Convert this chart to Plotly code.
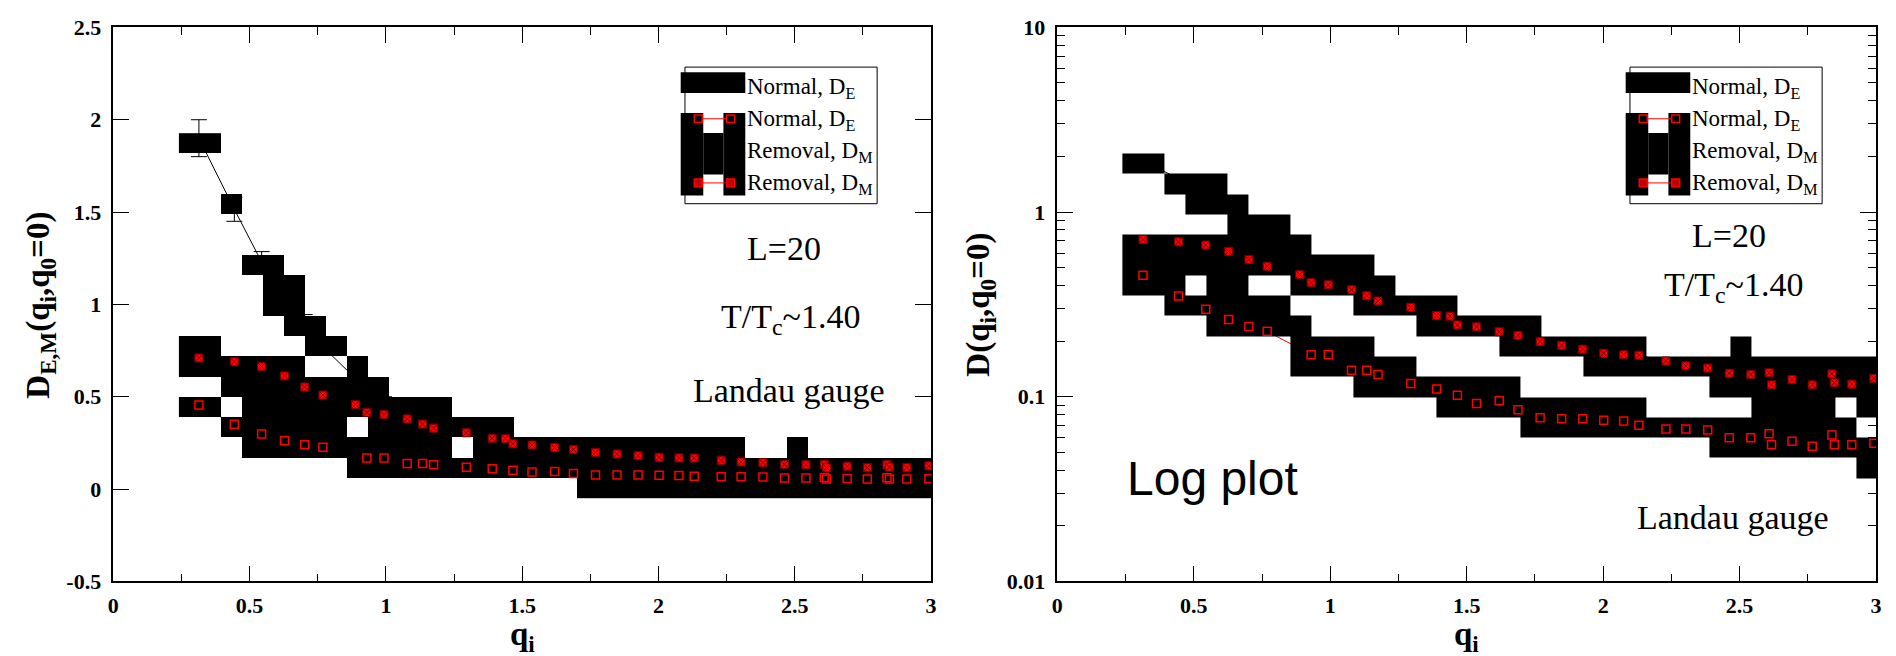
import math
import plotly.graph_objects as go

# ---------------- data ----------------
# Normal, D_E (black, with error bars)
q_de_black = [0.314, 0.444, 0.544, 0.628, 0.702, 0.769, 0.888, 0.930, 0.993, 1.078, 1.175]
de_black = [1.90, 1.515, 1.23, 1.05, 0.90, 0.77, 0.60, 0.55, 0.47, 0.45, 0.40]
de_black_err = [0.10, 0.065, 0.056, 0.05, 0.045, 0.04, 0.035, 0.03, 0.03, 0.025, 0.02]

# Normal, D_E (red open squares)
q_de_red = [0.314, 0.444, 0.544, 0.628, 0.702, 0.769, 0.930, 0.993, 1.078, 1.134, 1.175, 1.295,
            1.390, 1.466, 1.536, 1.619, 1.688, 1.769, 1.848, 1.925, 2.002, 2.075, 2.131, 2.230,
            2.303, 2.383, 2.462, 2.541, 2.608, 2.617, 2.692, 2.766, 2.838, 2.847, 2.911, 2.992]
de_red = [0.455, 0.351, 0.298, 0.262, 0.240, 0.226, 0.169, 0.169, 0.139, 0.139, 0.132, 0.118,
          0.110, 0.102, 0.092, 0.095, 0.085, 0.077, 0.076, 0.076, 0.0745, 0.074, 0.070, 0.067,
          0.067, 0.066, 0.060, 0.060, 0.063, 0.055, 0.0575, 0.054, 0.062, 0.055, 0.055, 0.056]

# Removal, D_M (black)
q_dm_black = [0.314, 0.444, 0.544, 0.628, 0.702, 0.769, 0.888, 0.930, 0.993, 1.078, 1.134, 1.175,
              1.295, 1.390, 1.466, 1.536, 1.688, 1.848, 2.002, 2.131, 2.303, 2.462, 2.513, 2.608,
              2.766, 2.960, 2.980]
dm_black = [0.65, 0.55, 0.50, 0.44, 0.33, 0.31, 0.25, 0.19, 0.185, 0.175, 0.16, 0.15,
            0.13, 0.12, 0.11, 0.10, 0.09, 0.085, 0.08, 0.071, 0.069, 0.066, 0.19, 0.088,
            0.088, 0.088, 0.041]

# Removal, D_M (red filled squares)
q_dm_red = [0.314, 0.444, 0.544, 0.628, 0.702, 0.769, 0.888, 0.930, 0.993, 1.078, 1.134, 1.175,
            1.295, 1.390, 1.439, 1.466, 1.536, 1.619, 1.688, 1.769, 1.848, 1.925, 2.002, 2.075,
            2.131, 2.230, 2.303, 2.383, 2.462, 2.541, 2.608, 2.617, 2.692, 2.766, 2.838, 2.847,
            2.911, 2.992]
dm_red = [0.71, 0.69, 0.663, 0.613, 0.553, 0.509, 0.458, 0.415, 0.404, 0.380, 0.352, 0.330,
          0.305, 0.275, 0.273, 0.245, 0.239, 0.225, 0.215, 0.199, 0.190, 0.181, 0.172, 0.169,
          0.168, 0.156, 0.147, 0.143, 0.134, 0.132, 0.135, 0.116, 0.124, 0.116, 0.133, 0.119,
          0.117, 0.126]

x_tick_vals = [0, 0.5, 1, 1.5, 2, 2.5, 3]
x_tick_text = ["0", "0.5", "1", "1.5", "2", "2.5", "3"]
ylin_tick_vals = [-0.5, 0, 0.5, 1, 1.5, 2, 2.5]
ylin_tick_text = ["-0.5", "0", "0.5", "1", "1.5", "2", "2.5"]
ylog_tick_vals = [0.01, 0.1, 1, 10]
ylog_tick_text = ["0.01", "0.1", "1", "10"]

legend_labels = ["Normal, D<sub>E</sub>", "Normal, D<sub>E</sub>",
                 "Removal, D<sub>M</sub>", "Removal, D<sub>M</sub>"]

# ---------------- geometry / style ----------------
W, H = 1896, 656
TOP, BOT = 16.0, 592.0
LX0, LX1 = 108.0, 931.0
RX0, RX1 = 1058.0, 1882.0
QMAX = 3.0
LIN_MIN, LIN_MAX = -0.5, 2.5
LOG_MIN, LOG_MAX = -2.0, 1.0

CELL = 21.1      # coarse block grid of the reference rendering
GX0, GY0 = 174.0, 126.0
HALF_X, HALF_Y = 5.0, 4.0

SERIF = "Liberation Serif"
SANS = "Liberation Sans"


def px_x(q, x0, x1):
    return x0 + q / QMAX * (x1 - x0)


def q_of_px(p, x0, x1):
    return (p - x0) / (x1 - x0) * QMAX


def py_lin(v):
    return TOP + (LIN_MAX - v) / (LIN_MAX - LIN_MIN) * (BOT - TOP)


def v_lin(p):
    return LIN_MAX - (p - TOP) / (BOT - TOP) * (LIN_MAX - LIN_MIN)


def py_log(v):
    return TOP + (LOG_MAX - math.log10(v)) / (LOG_MAX - LOG_MIN) * (BOT - TOP)


def v_log(p):
    return 10 ** (LOG_MAX - (p - TOP) / (BOT - TOP) * (LOG_MAX - LOG_MIN))


def block_mask(series, x0, x1, ypx, yval, xaxis, yaxis):
    cells = set()
    for qs, vs in series:
        for q, v in zip(qs, vs):
            px, py = px_x(q, x0, x1), ypx(v)
            i0 = math.floor((px - HALF_X - GX0) / CELL)
            i1 = math.floor((px + HALF_X - GX0) / CELL)
            j0 = math.floor((py - HALF_Y - GY0) / CELL)
            j1 = math.floor((py + HALF_Y - GY0) / CELL)
            for i in range(i0, i1 + 1):
                for j in range(j0, j1 + 1):
                    cells.add((i, j))
    imin = min(c[0] for c in cells)
    imax = max(c[0] for c in cells)
    jmin = min(c[1] for c in cells)
    jmax = max(c[1] for c in cells)
    xe = [q_of_px(GX0 + i * CELL, x0, x1) for i in range(imin, imax + 2)]
    js = list(range(jmax, jmin - 1, -1))
    ye = [yval(GY0 + (j + 1) * CELL) for j in js] + [yval(GY0 + jmin * CELL)]
    z = [[1 if (i, j) in cells else None for i in range(imin, imax + 1)] for j in js]
    return go.Heatmap(x=xe, y=ye, z=z, zmin=0, zmax=1,
                      colorscale=[[0, "black"], [1, "black"]], showscale=False,
                      hoverinfo="skip", xaxis=xaxis, yaxis=yaxis)


fig = go.Figure()

all_series = [(q_de_black, de_black), (q_dm_black, dm_black),
              (q_de_red, de_red), (q_dm_red, dm_red)]

panels = [
    dict(xa="x", ya="y", yo="y3", x0=LX0, x1=LX1, ypx=py_lin, yval=v_lin),
    dict(xa="x2", ya="y2", yo="y4", x0=RX0, x1=RX1, ypx=py_log, yval=v_log),
]

for p in panels:
    # base layer: lines (hidden where blocks cover them)
    fig.add_trace(go.Scatter(x=q_de_red, y=de_red, mode="lines",
                             line=dict(color="red", width=1),
                             xaxis=p["xa"], yaxis=p["ya"], showlegend=False))
    fig.add_trace(go.Scatter(x=q_dm_red, y=dm_red, mode="lines",
                             line=dict(color="red", width=1),
                             xaxis=p["xa"], yaxis=p["ya"], showlegend=False))
    fig.add_trace(go.Scatter(x=q_de_black, y=de_black, mode="lines+markers",
                             line=dict(color="black", width=1),
                             marker=dict(symbol="square", size=8, color="black"),
                             error_y=dict(type="data", array=de_black_err, color="black",
                                          thickness=1, width=8),
                             xaxis=p["xa"], yaxis=p["ya"], showlegend=False))
    fig.add_trace(go.Scatter(x=q_dm_black, y=dm_black, mode="markers",
                             marker=dict(symbol="square", size=8, color="black"),
                             xaxis=p["xa"], yaxis=p["ya"], showlegend=False))
    # overlay layer: black blocks, then red symbols on top
    fig.add_trace(block_mask(all_series, p["x0"], p["x1"], p["ypx"], p["yval"],
                             p["xa"], p["yo"]))
    fig.add_trace(go.Scatter(x=q_de_red, y=de_red, mode="markers",
                             marker=dict(symbol="square-open", size=8, color="red",
                                         line=dict(width=1.5, color="red")),
                             xaxis=p["xa"], yaxis=p["yo"], showlegend=False))
    fig.add_trace(go.Scatter(x=q_dm_red, y=dm_red, mode="markers",
                             marker=dict(symbol="square-x", size=8, color="red",
                                         line=dict(width=1, color="#7a0000")),
                             xaxis=p["xa"], yaxis=p["yo"], showlegend=False))

tickfont = dict(family=SERIF, size=22, color="black", weight="bold")
ydom = [1 - BOT / H, 1 - TOP / H]

common_x = dict(range=[0, QMAX], tickmode="array", tickvals=x_tick_vals, ticktext=x_tick_text,
                ticks="inside", ticklen=16, tickwidth=1, tickcolor="black",
                minor=dict(tickmode="linear", tick0=0, dtick=0.25, ticks="inside", ticklen=8,
                           tickwidth=1, tickcolor="black", showgrid=False),
                showline=True, linecolor="black", linewidth=1.5, mirror="ticks",
                showgrid=False, zeroline=False, tickfont=tickfont, ticklabelstandoff=3)

minor_log = [m * 10 ** e for e in (-2, -1, 0) for m in range(2, 10)]

fig.update_layout(
    width=W, height=H, margin=dict(l=0, r=0, t=0, b=0),
    paper_bgcolor="white", plot_bgcolor="white", showlegend=False,
    xaxis=dict(domain=[LX0 / W, LX1 / W], anchor="y", **common_x),
    xaxis2=dict(domain=[RX0 / W, RX1 / W], anchor="y2", **common_x),
    yaxis=dict(domain=ydom, anchor="x", range=[LIN_MIN, LIN_MAX], tickmode="array",
               tickvals=ylin_tick_vals, ticktext=ylin_tick_text, ticks="inside", ticklen=16,
               tickwidth=1, tickcolor="black", showline=True, linecolor="black",
               linewidth=1.5, mirror="ticks", showgrid=False, zeroline=False,
               tickfont=tickfont, ticklabelstandoff=6),
    yaxis2=dict(domain=ydom, anchor="x2", type="log", range=[LOG_MIN, LOG_MAX],
                tickmode="array", tickvals=ylog_tick_vals, ticktext=ylog_tick_text,
                ticks="inside", ticklen=16, tickwidth=1, tickcolor="black",
                minor=dict(tickmode="array", tickvals=minor_log, ticks="inside", ticklen=8,
                           tickwidth=1, tickcolor="black", showgrid=False),
                showline=True, linecolor="black", linewidth=1.5, mirror="ticks",
                showgrid=False, zeroline=False, tickfont=tickfont, ticklabelstandoff=6),
    yaxis3=dict(overlaying="y", anchor="x", range=[LIN_MIN, LIN_MAX], visible=False),
    yaxis4=dict(overlaying="y2", anchor="x2", type="log", range=[LOG_MIN, LOG_MAX],
                visible=False),
)


def pr(x0, y0, x1, y1, **kw):
    return dict(type="rect", xref="paper", yref="paper",
                x0=x0 / W, x1=x1 / W, y0=1 - y1 / H, y1=1 - y0 / H, **kw)


def pl(x0, y0, x1, y1, **kw):
    return dict(type="line", xref="paper", yref="paper",
                x0=x0 / W, x1=x1 / W, y0=1 - y0 / H, y1=1 - y1 / H, **kw)


shapes = []
annotations = []


def ann(text, x, y, size, family=SERIF, bold=False, xanchor="center", yanchor="top",
        angle=0):
    annotations.append(dict(text=text, xref="paper", yref="paper", x=x / W, y=1 - y / H,
                            xanchor=xanchor, yanchor=yanchor, showarrow=False,
                            textangle=angle,
                            font=dict(family=family, size=size, color="black",
                                      weight="bold" if bold else "normal")))


LEG_FONT = 23
for lx in (679.0, 1630.0):
    shapes.append(pr(lx + 4.3, 57.3, lx + 197.7, 199.3, line=dict(color="black", width=1),
                     fillcolor="rgba(0,0,0,0)", layer="below"))
    for (a, b, c, d) in [(0, 62.7, 65, 84.3), (0, 105, 22.7, 190.7),
                         (43, 105, 65, 190.7), (22.7, 125.7, 43, 169)]:
        shapes.append(pr(lx + a, b, lx + c, d, line=dict(width=0), fillcolor="black"))
    for yy, filled in ((111.0, False), (177.7, True)):
        shapes.append(pl(lx + 21.7, yy, lx + 46.3, yy, line=dict(color="red", width=1)))
        for sx in (17.7, 50.3):
            shapes.append(pr(lx + sx - 4, yy - 4, lx + sx + 4, yy + 4,
                             line=dict(color="red", width=1.5),
                             fillcolor="#c00000" if filled else "rgba(0,0,0,0)"))
    for k, base in enumerate((82.5, 116.0, 149.5, 183.0)):
        ann(legend_labels[k], lx + 65, base - 0.891 * LEG_FONT, LEG_FONT, xanchor="left")

# panel texts
ann("L=20", 783, 255 - 0.891 * 34, 34)
ann("T/T<sub>c</sub>~1.40", 789, 325.4 - 0.891 * 34, 34)
ann("Landau gauge", 788, 402.7 - 0.891 * 34, 34)
ann("L=20", 1733.5, 241.8 - 0.891 * 34, 34)
ann("T/T<sub>c</sub>~1.40", 1738.6, 291.9 - 0.891 * 34, 34)
ann("Landau gauge", 1738, 534 - 0.891 * 34, 34)
ann("Log plot", 1214.4, 499 - 0.905 * 48, 48, family=SANS)

# axis titles
ann("q<sub>i</sub>", (LX0 + LX1) / 2, 626, 33, bold=True)
ann("q<sub>i</sub>", (RX0 + RX1) / 2, 626, 33, bold=True)
ann("D<sub>E,M</sub>(q<sub>i</sub>,q<sub>0</sub>=0)", 35, 304.5, 33, bold=True,
    yanchor="middle", angle=-90)
ann("D(q<sub>i</sub>,q<sub>0</sub>=0)", 981, 304.5, 33, bold=True,
    yanchor="middle", angle=-90)

fig.update_layout(shapes=shapes, annotations=annotations)
fig.write_html("out.html")
